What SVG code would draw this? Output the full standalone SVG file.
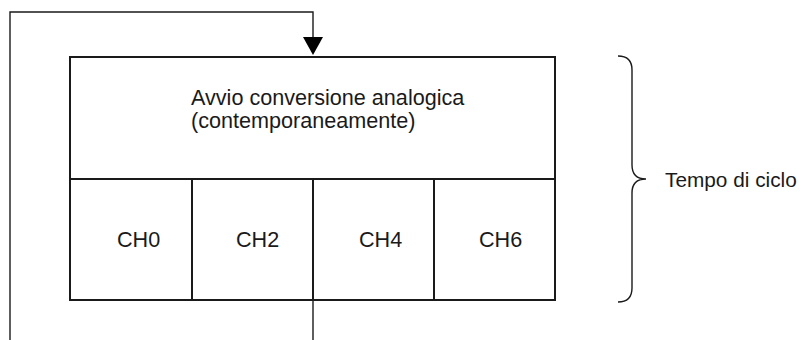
<svg xmlns="http://www.w3.org/2000/svg" width="805" height="340" viewBox="0 0 805 340">
<defs>
<style>
.box{fill:#fff;stroke:#1a1a1a;stroke-width:2}
.conn{fill:none;stroke:#1a1a1a;stroke-width:1.4}
.t{font-family:"Liberation Sans",Arial,sans-serif;font-size:21.6px;fill:#1a1a1a}
</style>
</defs>
<rect width="805" height="340" fill="#fff"/>
<g id="connectors">
<path class="conn" d="M313,340 L313,300"/>
<path class="conn" d="M10,340 L10,12 L313,12 L313,37"/>
<path d="M303,37 L323,37 L313,55 Z" fill="#000"/>
</g>
<g id="start">
<rect class="box" x="70" y="57" width="485" height="122"/>
<text class="t" x="191" y="105">Avvio conversione analogica</text>
<text class="t" x="191" y="128">(contemporaneamente)</text>
</g>
<g id="ch0">
<rect class="box" x="70" y="179" width="122" height="121"/>
<text class="t" x="117" y="247">CH0</text>
</g>
<g id="ch2">
<rect class="box" x="192" y="179" width="121" height="121"/>
<text class="t" x="236" y="247">CH2</text>
</g>
<g id="ch4">
<rect class="box" x="313" y="179" width="121" height="121"/>
<text class="t" x="359" y="247">CH4</text>
</g>
<g id="ch6">
<rect class="box" x="434" y="179" width="121" height="121"/>
<text class="t" x="479" y="247">CH6</text>
</g>
<g id="brace">
<path class="conn" d="M618,56 Q632,56 632,70 L632,165 Q632,179 646,179 Q632,179 632,193 L632,288 Q632,302 618,302"/>
<text class="t" x="665" y="187" style="font-size:20.8px">Tempo di ciclo</text>
</g>
</svg>
